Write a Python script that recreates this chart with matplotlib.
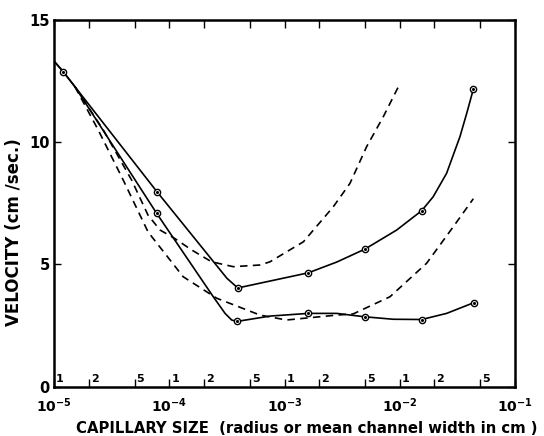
import matplotlib
matplotlib.use("Agg")
import matplotlib.pyplot as plt

# ---- data (capillary size in cm, velocity in cm/sec) ----
upper_solid_x = [1.0e-5, 1.20e-5, 1.52e-5, 7.87e-5, 3.16e-4, 3.93e-4, 1.61e-3, 2.84e-3,
                 4.99e-3, 9.41e-3, 1.55e-2, 1.95e-2, 2.55e-2, 3.33e-2, 3.81e-2, 4.35e-2]
upper_solid_y = [13.31, 12.88, 12.26, 7.95, 4.43, 4.03, 4.65, 5.09,
                 5.62, 6.40, 7.19, 7.76, 8.72, 10.22, 11.17, 12.16]

lower_solid_x = [1.0e-5, 1.20e-5, 1.52e-5, 7.78e-5, 2.41e-4, 3.05e-4, 3.48e-4,
                 3.85e-4, 7.48e-4, 1.61e-3, 2.84e-3, 4.99e-3, 8.79e-3, 1.55e-2, 2.55e-2, 4.40e-2]
lower_solid_y = [13.31, 12.88, 12.26, 7.08, 3.67, 2.99, 2.72,
                 2.66, 2.88, 2.99, 2.99, 2.85, 2.75, 2.74, 2.99, 3.43]

upper_pts_x = [1.20e-5, 7.87e-5, 3.93e-4, 1.61e-3, 4.99e-3, 1.55e-2, 4.35e-2]
upper_pts_y = [12.88, 7.95, 4.03, 4.65, 5.62, 7.19, 12.16]
lower_pts_x = [7.78e-5, 3.85e-4, 1.61e-3, 4.99e-3, 1.55e-2, 4.40e-2]
lower_pts_y = [7.08, 2.66, 2.99, 2.85, 2.74, 3.43]

upper_dash_x = [1.52e-5, 2.68e-5, 4.72e-5, 6.54e-5, 8.32e-5, 1.12e-4, 1.57e-4, 2.33e-4,
                3.60e-4, 6.14e-4, 7.48e-4, 1.46e-3, 2.65e-3, 3.70e-3, 5.16e-3, 7.19e-3, 1.00e-2]
upper_dash_y = [12.26, 10.49, 8.44, 7.01, 6.40, 6.05, 5.58, 5.10,
                4.90, 4.97, 5.10, 5.92, 7.35, 8.31, 9.81, 11.03, 12.37]

lower_dash_x = [1.52e-5, 2.42e-5, 3.99e-5, 6.55e-5, 1.32e-4, 2.58e-4, 6.14e-4, 1.04e-3,
                2.84e-3, 3.95e-3, 8.22e-3, 1.71e-2, 2.92e-2, 4.35e-2]
lower_dash_y = [12.26, 10.49, 8.44, 6.32, 4.49, 3.61, 2.92, 2.72,
                2.92, 2.97, 3.67, 5.04, 6.54, 7.68]

decades = [1e-5, 1e-4, 1e-3, 1e-2, 1e-1]
decade_labels = [r"$\mathbf{10^{-5}}$", r"$\mathbf{10^{-4}}$", r"$\mathbf{10^{-3}}$",
                 r"$\mathbf{10^{-2}}$", r"$\mathbf{10^{-1}}$"]
inner_ticks = [1e-5, 2e-5, 5e-5, 1e-4, 2e-4, 5e-4, 1e-3, 2e-3, 5e-3, 1e-2, 2e-2, 5e-2]
inner_labels = ["1", "2", "5", "1", "2", "5", "1", "2", "5", "1", "2", "5"]
y_ticks = [0, 5, 10, 15]
y_labels = ["0", "5", "10", "15"]

# ---- figure ----
fig = plt.figure(figsize=(5.44, 4.36), dpi=100)
ax = fig.add_axes([54 / 544, 1 - 386.5 / 436, (515 - 54) / 544, (386.5 - 19.75) / 436])
ax.set_xscale("log")
ax.set_xlim(1e-5, 1e-1)
ax.set_ylim(0, 15)

lw = 1.2
ax.plot(upper_solid_x, upper_solid_y, color="black", lw=lw, solid_joinstyle="round")
ax.plot(lower_solid_x, lower_solid_y, color="black", lw=lw, solid_joinstyle="round")
ax.plot(upper_dash_x, upper_dash_y, color="black", lw=lw, dashes=(4.5, 3.2))
ax.plot(lower_dash_x, lower_dash_y, color="black", lw=lw, dashes=(4.5, 3.2))

for xs, ys in [(upper_pts_x, upper_pts_y), (lower_pts_x, lower_pts_y)]:
    ax.plot(xs, ys, ls="none", marker="o", ms=4.5, mfc="white", mec="black", mew=1.0, zorder=5)
    ax.plot(xs, ys, ls="none", marker="o", ms=1.2, mfc="black", mec="black", zorder=6)

for s in ax.spines.values():
    s.set_linewidth(1.8)

ax.set_xticks(decades)
ax.set_xticklabels(decade_labels, fontsize=10)
ax.set_xticks(inner_ticks, minor=True)
ax.xaxis.set_minor_formatter(plt.NullFormatter())
ax.tick_params(axis="x", which="both", direction="in", top=True, bottom=True,
               length=6, width=1.0, pad=7)
ax.set_yticks(y_ticks)
ax.set_yticklabels(y_labels, fontsize=10.5, fontweight="bold")
ax.tick_params(axis="y", which="both", direction="in", left=True, right=True,
               length=5, width=1.0, pad=3)

for v, t in zip(inner_ticks, inner_labels):
    ax.annotate(t, xy=(v, 0), xycoords=("data", "axes fraction"), xytext=(1.5, 1.5),
                textcoords="offset points", ha="left", va="bottom", fontsize=8,
                fontweight="bold")

ax.set_xlabel("CAPILLARY SIZE  (radius or mean channel width in cm )", fontsize=10.7,
              fontweight="bold", labelpad=6)
ax.xaxis.set_label_coords((307 - 54) / 461, -0.095)
ax.set_ylabel("VELOCITY (cm /sec.)", fontsize=12, fontweight="bold")
ax.yaxis.set_label_coords((23 - 54) / 461, (386.5 - 232) / 366.75)

fig.savefig("out.png", dpi=100)
